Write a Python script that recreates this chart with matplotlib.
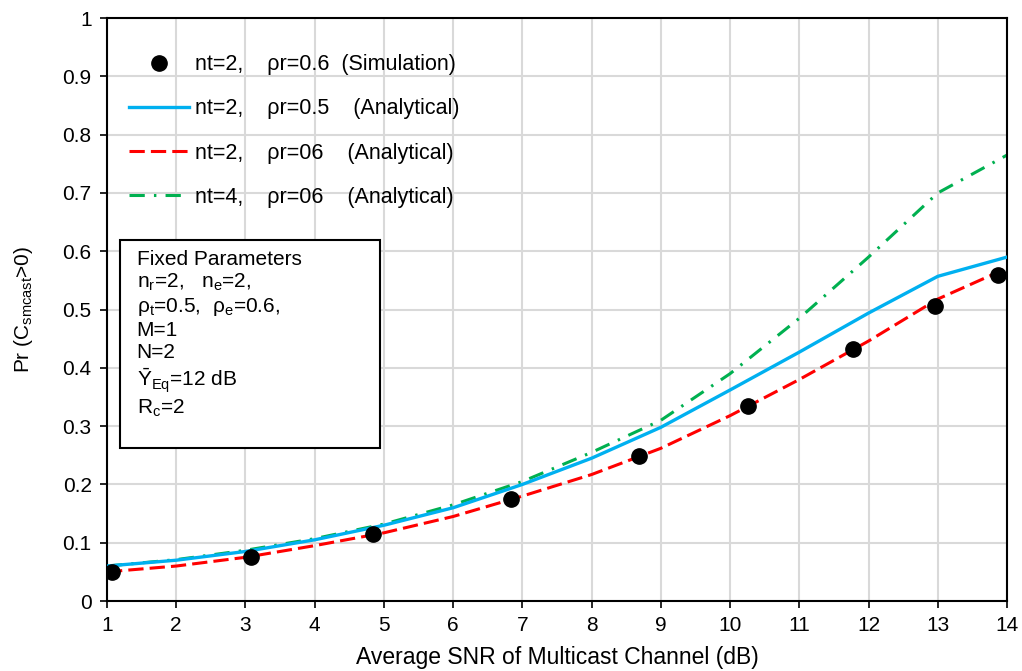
import numpy as np
import matplotlib
matplotlib.use("Agg")
import matplotlib.pyplot as plt
from matplotlib.patches import Rectangle

plt.rcParams['font.family'] = ['Liberation Sans', 'DejaVu Sans']
plt.rcParams['mathtext.fontset'] = 'custom'
plt.rcParams['mathtext.rm'] = 'Liberation Sans'
plt.rcParams['mathtext.it'] = 'Liberation Sans:italic'

# simulation points (nt=2, pr=0.6)
sim_x = [1.07, 3.08, 4.84, 6.84, 8.68, 10.26, 11.78, 12.96, 13.87]
sim_y = [0.050, 0.075, 0.115, 0.175, 0.249, 0.334, 0.432, 0.506, 0.559]

# analytical curves
snr = [1, 2, 3, 4, 5, 6, 7, 8, 9, 10, 11, 12, 13, 14]
blue_y = [0.060, 0.070, 0.085, 0.105, 0.130, 0.160, 0.200, 0.245, 0.298, 0.362, 0.427, 0.494, 0.557, 0.590]
red_y = [0.050, 0.060, 0.075, 0.095, 0.117, 0.145, 0.180, 0.217, 0.262, 0.318, 0.380, 0.446, 0.518, 0.571]
green_y = [0.060, 0.071, 0.087, 0.107, 0.132, 0.165, 0.205, 0.255, 0.310, 0.390, 0.485, 0.590, 0.700, 0.765]

labels = ['nt=2,    ρr=0.6  (Simulation)',
          'nt=2,    ρr=0.5    (Analytical)',
          'nt=2,    ρr=06    (Analytical)',
          'nt=4,    ρr=06    (Analytical)']

box_lines = ['Fixed Parameters',
             r'n$_\mathrm{r}$=2,   n$_\mathrm{e}$=2,',
             r'ρ$_\mathrm{t}$=0.5,  ρ$_\mathrm{e}$=0.6,',
             'M=1',
             'N=2',
             r'$\bar{\mathrm{Y}}_\mathrm{Eq}$=12 dB',
             r'R$_\mathrm{c}$=2']

fig = plt.figure(figsize=(10.22, 6.71), dpi=100)
ax = fig.add_axes([0.1047, 0.1043, 0.8806, 0.8687])

ax.plot(sim_x, sim_y, 'o', color='black', markersize=11, label=labels[0], zorder=5)
ax.plot(snr, blue_y, '-', color='#00b0f0', lw=2.4, label=labels[1], zorder=3)
ax.plot(snr, red_y, color='#ff0000', lw=2.2, linestyle=(0, (5, 2)), label=labels[2], zorder=4)
ax.plot(snr, green_y, color='#00b050', lw=2.2, linestyle=(0, (5, 3, 0.8, 3)), label=labels[3], zorder=2)

ax.set_xlim(1, 14)
ax.set_ylim(0, 1)
ax.set_xticks(range(1, 15))
yt = np.arange(0, 1.01, 0.1)
ax.set_yticks(yt)
ax.set_yticklabels(['0'] + ['%.1f' % v for v in yt[1:-1]] + ['1'])
ax.tick_params(direction='out', length=5, width=1.2, labelsize=15, colors='black')
ax.tick_params(axis='y', pad=6)
ax.tick_params(axis='x', pad=6)
ax.grid(True, color='#d9d9d9', lw=1.5)
ax.set_axisbelow(True)
for s in ax.spines.values():
    s.set_linewidth(1.5)

ax.set_xlabel('Average SNR of Multicast Channel (dB)', fontsize=16.5, labelpad=8)
ax.set_ylabel(r'Pr (C$_\mathrm{smcast}$>0)', fontsize=15, labelpad=20)

ax.legend(loc='upper left', bbox_to_anchor=(0.0, 0.975), frameon=False, fontsize=15.5,
          handlelength=2.8, labelspacing=1.08, handletextpad=0.3, borderaxespad=0.6)

ax.add_patch(Rectangle((0.0144, 0.262), 0.289, 0.357, transform=ax.transAxes,
                       fill=True, facecolor='white', edgecolor='black', lw=1.5, zorder=6))
ax.text(0.033, 0.603, '\n'.join(box_lines), transform=ax.transAxes, fontsize=15,
        va='top', ha='left', linespacing=1.2, zorder=7)

fig.savefig('out.png', dpi=100)
